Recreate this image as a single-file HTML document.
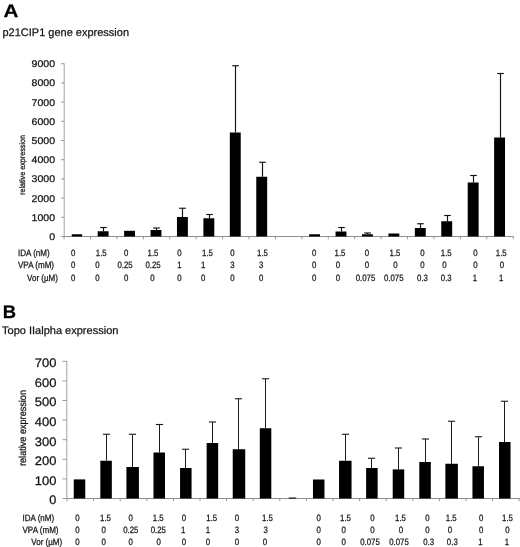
<!DOCTYPE html>
<html lang="en"><head><meta charset="utf-8"><title>Figure</title>
<style>
html,body{margin:0;padding:0;background:#fff;}
svg text{stroke:#1a1a1a;stroke-width:0.25px;}
svg{display:block;text-rendering:geometricPrecision;will-change:transform;filter:grayscale(1);font-family:"Liberation Sans", Arial, Helvetica, sans-serif;}
</style></head><body>
<svg width="520" height="547" viewBox="0 0 520 547">
<rect x="0" y="0" width="520" height="547" fill="#ffffff"/>
<text x="3.5" y="17.4" font-size="18" text-anchor="start" font-weight="bold" fill="#000" textLength="14.9" lengthAdjust="spacingAndGlyphs">A</text>
<text x="2.5" y="35.8" font-size="11" text-anchor="start" font-weight="normal" fill="#111" textLength="126.5" lengthAdjust="spacingAndGlyphs">p21CIP1 gene expression</text>
<line x1="64.2" y1="63.5" x2="64.2" y2="237.0" stroke="#a2a2a2" stroke-width="1.0"/>
<line x1="63.7" y1="236.5" x2="513.5" y2="236.5" stroke="#8e8e8e" stroke-width="1.0"/>
<line x1="61" y1="236.5" x2="64.2" y2="236.5" stroke="#9a9a9a" stroke-width="1.0"/>
<text x="55" y="240.0" font-size="9.7" text-anchor="end" font-weight="normal" fill="#111" textLength="5.85" lengthAdjust="spacingAndGlyphs">0</text>
<line x1="61" y1="217.3" x2="64.2" y2="217.3" stroke="#9a9a9a" stroke-width="1.0"/>
<text x="55" y="220.8" font-size="9.7" text-anchor="end" font-weight="normal" fill="#111" textLength="23.4" lengthAdjust="spacingAndGlyphs">1000</text>
<line x1="61" y1="198.1" x2="64.2" y2="198.1" stroke="#9a9a9a" stroke-width="1.0"/>
<text x="55" y="201.6" font-size="9.7" text-anchor="end" font-weight="normal" fill="#111" textLength="23.4" lengthAdjust="spacingAndGlyphs">2000</text>
<line x1="61" y1="178.9" x2="64.2" y2="178.9" stroke="#9a9a9a" stroke-width="1.0"/>
<text x="55" y="182.4" font-size="9.7" text-anchor="end" font-weight="normal" fill="#111" textLength="23.4" lengthAdjust="spacingAndGlyphs">3000</text>
<line x1="61" y1="159.7" x2="64.2" y2="159.7" stroke="#9a9a9a" stroke-width="1.0"/>
<text x="55" y="163.2" font-size="9.7" text-anchor="end" font-weight="normal" fill="#111" textLength="23.4" lengthAdjust="spacingAndGlyphs">4000</text>
<line x1="61" y1="140.5" x2="64.2" y2="140.5" stroke="#9a9a9a" stroke-width="1.0"/>
<text x="55" y="144.0" font-size="9.7" text-anchor="end" font-weight="normal" fill="#111" textLength="23.4" lengthAdjust="spacingAndGlyphs">5000</text>
<line x1="61" y1="121.30000000000001" x2="64.2" y2="121.30000000000001" stroke="#9a9a9a" stroke-width="1.0"/>
<text x="55" y="124.80000000000001" font-size="9.7" text-anchor="end" font-weight="normal" fill="#111" textLength="23.4" lengthAdjust="spacingAndGlyphs">6000</text>
<line x1="61" y1="102.1" x2="64.2" y2="102.1" stroke="#9a9a9a" stroke-width="1.0"/>
<text x="55" y="105.6" font-size="9.7" text-anchor="end" font-weight="normal" fill="#111" textLength="23.4" lengthAdjust="spacingAndGlyphs">7000</text>
<line x1="61" y1="82.9" x2="64.2" y2="82.9" stroke="#9a9a9a" stroke-width="1.0"/>
<text x="55" y="86.4" font-size="9.7" text-anchor="end" font-weight="normal" fill="#111" textLength="23.4" lengthAdjust="spacingAndGlyphs">8000</text>
<line x1="61" y1="63.70000000000002" x2="64.2" y2="63.70000000000002" stroke="#9a9a9a" stroke-width="1.0"/>
<text x="55" y="67.20000000000002" font-size="9.7" text-anchor="end" font-weight="normal" fill="#111" textLength="23.4" lengthAdjust="spacingAndGlyphs">9000</text>
<line x1="64.08" y1="236.5" x2="64.08" y2="239.3" stroke="#9a9a9a" stroke-width="1.0"/>
<line x1="90.5" y1="236.5" x2="90.5" y2="239.3" stroke="#9a9a9a" stroke-width="1.0"/>
<line x1="116.92" y1="236.5" x2="116.92" y2="239.3" stroke="#9a9a9a" stroke-width="1.0"/>
<line x1="143.34" y1="236.5" x2="143.34" y2="239.3" stroke="#9a9a9a" stroke-width="1.0"/>
<line x1="169.76" y1="236.5" x2="169.76" y2="239.3" stroke="#9a9a9a" stroke-width="1.0"/>
<line x1="196.18" y1="236.5" x2="196.18" y2="239.3" stroke="#9a9a9a" stroke-width="1.0"/>
<line x1="222.60000000000002" y1="236.5" x2="222.60000000000002" y2="239.3" stroke="#9a9a9a" stroke-width="1.0"/>
<line x1="249.01999999999998" y1="236.5" x2="249.01999999999998" y2="239.3" stroke="#9a9a9a" stroke-width="1.0"/>
<line x1="275.44" y1="236.5" x2="275.44" y2="239.3" stroke="#9a9a9a" stroke-width="1.0"/>
<line x1="301.86" y1="236.5" x2="301.86" y2="239.3" stroke="#9a9a9a" stroke-width="1.0"/>
<line x1="328.28000000000003" y1="236.5" x2="328.28000000000003" y2="239.3" stroke="#9a9a9a" stroke-width="1.0"/>
<line x1="354.7" y1="236.5" x2="354.7" y2="239.3" stroke="#9a9a9a" stroke-width="1.0"/>
<line x1="381.12" y1="236.5" x2="381.12" y2="239.3" stroke="#9a9a9a" stroke-width="1.0"/>
<line x1="407.54" y1="236.5" x2="407.54" y2="239.3" stroke="#9a9a9a" stroke-width="1.0"/>
<line x1="433.96" y1="236.5" x2="433.96" y2="239.3" stroke="#9a9a9a" stroke-width="1.0"/>
<line x1="460.38" y1="236.5" x2="460.38" y2="239.3" stroke="#9a9a9a" stroke-width="1.0"/>
<line x1="486.8" y1="236.5" x2="486.8" y2="239.3" stroke="#9a9a9a" stroke-width="1.0"/>
<line x1="513.22" y1="236.5" x2="513.22" y2="239.3" stroke="#9a9a9a" stroke-width="1.0"/>
<text transform="translate(25.2,165) rotate(-90)" font-size="8" text-anchor="middle" fill="#111" textLength="60" lengthAdjust="spacingAndGlyphs">relative expression</text>
<rect x="71.75" y="234.25" width="10.40" height="2.25" fill="#000"/>
<rect x="97.68" y="231.25" width="10.90" height="5.25" fill="#000"/>
<line x1="103.5" y1="227.5" x2="103.5" y2="231.25" stroke="#111" stroke-width="1.15"/>
<line x1="100.2" y1="227.5" x2="106.8" y2="227.5" stroke="#111" stroke-width="1.15"/>
<rect x="124.11" y="230.80" width="10.90" height="5.70" fill="#000"/>
<rect x="150.54" y="230.00" width="10.90" height="6.50" fill="#000"/>
<line x1="156.5" y1="228" x2="156.5" y2="230" stroke="#111" stroke-width="1.15"/>
<line x1="153.2" y1="228" x2="159.8" y2="228" stroke="#111" stroke-width="1.15"/>
<rect x="176.97" y="217.00" width="10.90" height="19.50" fill="#000"/>
<line x1="182.5" y1="208.25" x2="182.5" y2="217" stroke="#111" stroke-width="1.15"/>
<line x1="179.2" y1="208.25" x2="185.8" y2="208.25" stroke="#111" stroke-width="1.15"/>
<rect x="203.40" y="218.25" width="10.90" height="18.25" fill="#000"/>
<line x1="209.5" y1="214.5" x2="209.5" y2="218.25" stroke="#111" stroke-width="1.15"/>
<line x1="206.2" y1="214.5" x2="212.8" y2="214.5" stroke="#111" stroke-width="1.15"/>
<rect x="229.83" y="132.50" width="10.90" height="104.00" fill="#000"/>
<line x1="235.5" y1="65.75" x2="235.5" y2="132.5" stroke="#111" stroke-width="1.15"/>
<line x1="232.2" y1="65.75" x2="238.8" y2="65.75" stroke="#111" stroke-width="1.15"/>
<rect x="256.26" y="176.75" width="10.90" height="59.75" fill="#000"/>
<line x1="262.5" y1="162.25" x2="262.5" y2="176.75" stroke="#111" stroke-width="1.15"/>
<line x1="259.2" y1="162.25" x2="265.8" y2="162.25" stroke="#111" stroke-width="1.15"/>
<rect x="309.12" y="234.25" width="10.90" height="2.25" fill="#000"/>
<rect x="335.55" y="231.50" width="10.90" height="5.00" fill="#000"/>
<line x1="341.5" y1="227.5" x2="341.5" y2="231.5" stroke="#111" stroke-width="1.15"/>
<line x1="338.2" y1="227.5" x2="344.8" y2="227.5" stroke="#111" stroke-width="1.15"/>
<rect x="361.98" y="234.25" width="10.90" height="2.25" fill="#000"/>
<line x1="367.5" y1="233" x2="367.5" y2="234.25" stroke="#111" stroke-width="1.15"/>
<line x1="364.2" y1="233" x2="370.8" y2="233" stroke="#111" stroke-width="1.15"/>
<rect x="388.41" y="233.50" width="10.90" height="3.00" fill="#000"/>
<rect x="414.84" y="228.00" width="10.90" height="8.50" fill="#000"/>
<line x1="420.5" y1="223.75" x2="420.5" y2="228" stroke="#111" stroke-width="1.15"/>
<line x1="417.2" y1="223.75" x2="423.8" y2="223.75" stroke="#111" stroke-width="1.15"/>
<rect x="441.27" y="221.25" width="10.90" height="15.25" fill="#000"/>
<line x1="447.5" y1="215.5" x2="447.5" y2="221.25" stroke="#111" stroke-width="1.15"/>
<line x1="444.2" y1="215.5" x2="450.8" y2="215.5" stroke="#111" stroke-width="1.15"/>
<rect x="467.70" y="182.50" width="10.90" height="54.00" fill="#000"/>
<line x1="473.5" y1="175.5" x2="473.5" y2="182.5" stroke="#111" stroke-width="1.15"/>
<line x1="470.2" y1="175.5" x2="476.8" y2="175.5" stroke="#111" stroke-width="1.15"/>
<rect x="494.13" y="137.50" width="10.90" height="99.00" fill="#000"/>
<line x1="500.5" y1="73.5" x2="500.5" y2="137.5" stroke="#111" stroke-width="1.15"/>
<line x1="497.2" y1="73.5" x2="503.8" y2="73.5" stroke="#111" stroke-width="1.15"/>
<text x="2.8" y="317.7" font-size="18.2" text-anchor="start" font-weight="bold" fill="#000" textLength="13.3" lengthAdjust="spacingAndGlyphs">B</text>
<text x="2" y="334.3" font-size="10.9" text-anchor="start" font-weight="normal" fill="#111" textLength="116.4" lengthAdjust="spacingAndGlyphs">Topo IIalpha expression</text>
<line x1="66.8" y1="361.0" x2="66.8" y2="499.0" stroke="#a2a2a2" stroke-width="1.0"/>
<line x1="66.3" y1="498.5" x2="520" y2="498.5" stroke="#8e8e8e" stroke-width="1.0"/>
<line x1="62.5" y1="498.5" x2="66.8" y2="498.5" stroke="#9a9a9a" stroke-width="1.0"/>
<text x="56.4" y="504.3" font-size="12.4" text-anchor="end" font-weight="normal" fill="#111" textLength="7.1" lengthAdjust="spacingAndGlyphs">0</text>
<line x1="62.5" y1="478.9" x2="66.8" y2="478.9" stroke="#9a9a9a" stroke-width="1.0"/>
<text x="56.4" y="484.7" font-size="12.4" text-anchor="end" font-weight="normal" fill="#111" textLength="21.6" lengthAdjust="spacingAndGlyphs">100</text>
<line x1="62.5" y1="459.3" x2="66.8" y2="459.3" stroke="#9a9a9a" stroke-width="1.0"/>
<text x="56.4" y="465.1" font-size="12.4" text-anchor="end" font-weight="normal" fill="#111" textLength="21.6" lengthAdjust="spacingAndGlyphs">200</text>
<line x1="62.5" y1="439.7" x2="66.8" y2="439.7" stroke="#9a9a9a" stroke-width="1.0"/>
<text x="56.4" y="445.5" font-size="12.4" text-anchor="end" font-weight="normal" fill="#111" textLength="21.6" lengthAdjust="spacingAndGlyphs">300</text>
<line x1="62.5" y1="420.1" x2="66.8" y2="420.1" stroke="#9a9a9a" stroke-width="1.0"/>
<text x="56.4" y="425.90000000000003" font-size="12.4" text-anchor="end" font-weight="normal" fill="#111" textLength="21.6" lengthAdjust="spacingAndGlyphs">400</text>
<line x1="62.5" y1="400.5" x2="66.8" y2="400.5" stroke="#9a9a9a" stroke-width="1.0"/>
<text x="56.4" y="406.3" font-size="12.4" text-anchor="end" font-weight="normal" fill="#111" textLength="21.6" lengthAdjust="spacingAndGlyphs">500</text>
<line x1="62.5" y1="380.9" x2="66.8" y2="380.9" stroke="#9a9a9a" stroke-width="1.0"/>
<text x="56.4" y="386.7" font-size="12.4" text-anchor="end" font-weight="normal" fill="#111" textLength="21.6" lengthAdjust="spacingAndGlyphs">600</text>
<line x1="62.5" y1="361.29999999999995" x2="66.8" y2="361.29999999999995" stroke="#9a9a9a" stroke-width="1.0"/>
<text x="56.4" y="367.09999999999997" font-size="12.4" text-anchor="end" font-weight="normal" fill="#111" textLength="21.6" lengthAdjust="spacingAndGlyphs">700</text>
<line x1="67.0" y1="498.5" x2="67.0" y2="501.3" stroke="#9a9a9a" stroke-width="1.0"/>
<line x1="93.6" y1="498.5" x2="93.6" y2="501.3" stroke="#9a9a9a" stroke-width="1.0"/>
<line x1="120.2" y1="498.5" x2="120.2" y2="501.3" stroke="#9a9a9a" stroke-width="1.0"/>
<line x1="146.8" y1="498.5" x2="146.8" y2="501.3" stroke="#9a9a9a" stroke-width="1.0"/>
<line x1="173.4" y1="498.5" x2="173.4" y2="501.3" stroke="#9a9a9a" stroke-width="1.0"/>
<line x1="200.0" y1="498.5" x2="200.0" y2="501.3" stroke="#9a9a9a" stroke-width="1.0"/>
<line x1="226.60000000000002" y1="498.5" x2="226.60000000000002" y2="501.3" stroke="#9a9a9a" stroke-width="1.0"/>
<line x1="253.20000000000002" y1="498.5" x2="253.20000000000002" y2="501.3" stroke="#9a9a9a" stroke-width="1.0"/>
<line x1="279.8" y1="498.5" x2="279.8" y2="501.3" stroke="#9a9a9a" stroke-width="1.0"/>
<line x1="306.4" y1="498.5" x2="306.4" y2="501.3" stroke="#9a9a9a" stroke-width="1.0"/>
<line x1="333.0" y1="498.5" x2="333.0" y2="501.3" stroke="#9a9a9a" stroke-width="1.0"/>
<line x1="359.6" y1="498.5" x2="359.6" y2="501.3" stroke="#9a9a9a" stroke-width="1.0"/>
<line x1="386.20000000000005" y1="498.5" x2="386.20000000000005" y2="501.3" stroke="#9a9a9a" stroke-width="1.0"/>
<line x1="412.8" y1="498.5" x2="412.8" y2="501.3" stroke="#9a9a9a" stroke-width="1.0"/>
<line x1="439.40000000000003" y1="498.5" x2="439.40000000000003" y2="501.3" stroke="#9a9a9a" stroke-width="1.0"/>
<line x1="466.0" y1="498.5" x2="466.0" y2="501.3" stroke="#9a9a9a" stroke-width="1.0"/>
<line x1="492.6" y1="498.5" x2="492.6" y2="501.3" stroke="#9a9a9a" stroke-width="1.0"/>
<line x1="519.2" y1="498.5" x2="519.2" y2="501.3" stroke="#9a9a9a" stroke-width="1.0"/>
<text transform="translate(25.6,428) rotate(-90)" font-size="10" text-anchor="middle" fill="#111" textLength="76" lengthAdjust="spacingAndGlyphs">relative expression</text>
<rect x="73.75" y="479.40" width="11.50" height="19.10" fill="#000"/>
<rect x="100.33" y="460.75" width="11.50" height="37.75" fill="#000"/>
<line x1="106.5" y1="434.25" x2="106.5" y2="460.75" stroke="#1c1c1c" stroke-width="1.0"/>
<line x1="102.9" y1="434.25" x2="110.1" y2="434.25" stroke="#1c1c1c" stroke-width="1.1"/>
<rect x="126.41" y="467.00" width="12.50" height="31.50" fill="#000"/>
<line x1="132.5" y1="434.25" x2="132.5" y2="467" stroke="#1c1c1c" stroke-width="1.0"/>
<line x1="128.9" y1="434.25" x2="136.1" y2="434.25" stroke="#1c1c1c" stroke-width="1.1"/>
<rect x="153.49" y="452.50" width="11.50" height="46.00" fill="#000"/>
<line x1="159.5" y1="424.5" x2="159.5" y2="452.5" stroke="#1c1c1c" stroke-width="1.0"/>
<line x1="155.9" y1="424.5" x2="163.1" y2="424.5" stroke="#1c1c1c" stroke-width="1.1"/>
<rect x="180.07" y="468.00" width="11.50" height="30.50" fill="#000"/>
<line x1="185.5" y1="449.25" x2="185.5" y2="468" stroke="#1c1c1c" stroke-width="1.0"/>
<line x1="181.9" y1="449.25" x2="189.1" y2="449.25" stroke="#1c1c1c" stroke-width="1.1"/>
<rect x="206.65" y="443.00" width="11.50" height="55.50" fill="#000"/>
<line x1="212.5" y1="422" x2="212.5" y2="443" stroke="#1c1c1c" stroke-width="1.0"/>
<line x1="208.9" y1="422" x2="216.1" y2="422" stroke="#1c1c1c" stroke-width="1.1"/>
<rect x="232.73" y="449.25" width="12.50" height="49.25" fill="#000"/>
<line x1="238.5" y1="398.75" x2="238.5" y2="449.25" stroke="#1c1c1c" stroke-width="1.0"/>
<line x1="234.9" y1="398.75" x2="242.1" y2="398.75" stroke="#1c1c1c" stroke-width="1.1"/>
<rect x="259.81" y="428.25" width="11.50" height="70.25" fill="#000"/>
<line x1="265.5" y1="378.75" x2="265.5" y2="428.25" stroke="#1c1c1c" stroke-width="1.0"/>
<line x1="261.9" y1="378.75" x2="269.1" y2="378.75" stroke="#1c1c1c" stroke-width="1.1"/>
<rect x="312.97" y="479.50" width="11.50" height="19.00" fill="#000"/>
<rect x="339.05" y="460.75" width="12.50" height="37.75" fill="#000"/>
<line x1="345.5" y1="434.25" x2="345.5" y2="460.75" stroke="#1c1c1c" stroke-width="1.0"/>
<line x1="341.9" y1="434.25" x2="349.1" y2="434.25" stroke="#1c1c1c" stroke-width="1.1"/>
<rect x="366.13" y="468.00" width="11.50" height="30.50" fill="#000"/>
<line x1="371.5" y1="458.25" x2="371.5" y2="468" stroke="#1c1c1c" stroke-width="1.0"/>
<line x1="367.9" y1="458.25" x2="375.1" y2="458.25" stroke="#1c1c1c" stroke-width="1.1"/>
<rect x="392.71" y="469.40" width="11.50" height="29.10" fill="#000"/>
<line x1="398.5" y1="448" x2="398.5" y2="469.4" stroke="#1c1c1c" stroke-width="1.0"/>
<line x1="394.9" y1="448" x2="402.1" y2="448" stroke="#1c1c1c" stroke-width="1.1"/>
<rect x="419.29" y="462.00" width="11.50" height="36.50" fill="#000"/>
<line x1="425.5" y1="439" x2="425.5" y2="462" stroke="#1c1c1c" stroke-width="1.0"/>
<line x1="421.9" y1="439" x2="429.1" y2="439" stroke="#1c1c1c" stroke-width="1.1"/>
<rect x="445.37" y="463.75" width="12.50" height="34.75" fill="#000"/>
<line x1="451.5" y1="421.25" x2="451.5" y2="463.75" stroke="#1c1c1c" stroke-width="1.0"/>
<line x1="447.9" y1="421.25" x2="455.1" y2="421.25" stroke="#1c1c1c" stroke-width="1.1"/>
<rect x="472.45" y="466.25" width="11.50" height="32.25" fill="#000"/>
<line x1="478.5" y1="436.75" x2="478.5" y2="466.25" stroke="#1c1c1c" stroke-width="1.0"/>
<line x1="474.9" y1="436.75" x2="482.1" y2="436.75" stroke="#1c1c1c" stroke-width="1.1"/>
<rect x="499.03" y="442.00" width="11.50" height="56.50" fill="#000"/>
<line x1="504.5" y1="401.25" x2="504.5" y2="442" stroke="#1c1c1c" stroke-width="1.0"/>
<line x1="500.9" y1="401.25" x2="508.1" y2="401.25" stroke="#1c1c1c" stroke-width="1.1"/>
<line x1="288.75" y1="498.1" x2="296.25" y2="498.1" stroke="#111" stroke-width="1.15"/>
<text transform="translate(18,256.2) scale(0.875,1)" font-size="9.2" text-anchor="start" fill="#111">IDA (nM)</text>
<text transform="translate(18,268.3) scale(0.875,1)" font-size="9.2" text-anchor="start" fill="#111">VPA (mM)</text>
<text transform="translate(27,280.6) scale(0.875,1)" font-size="9.2" text-anchor="start" fill="#111">Vor (µM)</text>
<text transform="translate(73.25,256.2) scale(0.85,1)" font-size="9.2" text-anchor="middle" fill="#111">0</text>
<text transform="translate(73.25,268.3) scale(0.85,1)" font-size="9.2" text-anchor="middle" fill="#111">0</text>
<text transform="translate(73.25,280.6) scale(0.85,1)" font-size="9.2" text-anchor="middle" fill="#111">0</text>
<text transform="translate(101.25,256.2) scale(0.85,1)" font-size="9.2" text-anchor="middle" fill="#111">1.5</text>
<text transform="translate(97.5,268.3) scale(0.85,1)" font-size="9.2" text-anchor="middle" fill="#111">0</text>
<text transform="translate(97.5,280.6) scale(0.85,1)" font-size="9.2" text-anchor="middle" fill="#111">0</text>
<text transform="translate(126.25,256.2) scale(0.85,1)" font-size="9.2" text-anchor="middle" fill="#111">0</text>
<text transform="translate(125,268.3) scale(0.85,1)" font-size="9.2" text-anchor="middle" fill="#111">0.25</text>
<text transform="translate(126.25,280.6) scale(0.85,1)" font-size="9.2" text-anchor="middle" fill="#111">0</text>
<text transform="translate(153,256.2) scale(0.85,1)" font-size="9.2" text-anchor="middle" fill="#111">1.5</text>
<text transform="translate(153,268.3) scale(0.85,1)" font-size="9.2" text-anchor="middle" fill="#111">0.25</text>
<text transform="translate(152.5,280.6) scale(0.85,1)" font-size="9.2" text-anchor="middle" fill="#111">0</text>
<text transform="translate(179.4,256.2) scale(0.85,1)" font-size="9.2" text-anchor="middle" fill="#111">0</text>
<text transform="translate(179.4,268.3) scale(0.85,1)" font-size="9.2" text-anchor="middle" fill="#111">1</text>
<text transform="translate(179.4,280.6) scale(0.85,1)" font-size="9.2" text-anchor="middle" fill="#111">0</text>
<text transform="translate(207.5,256.2) scale(0.85,1)" font-size="9.2" text-anchor="middle" fill="#111">1.5</text>
<text transform="translate(203.25,268.3) scale(0.85,1)" font-size="9.2" text-anchor="middle" fill="#111">1</text>
<text transform="translate(203.25,280.6) scale(0.85,1)" font-size="9.2" text-anchor="middle" fill="#111">0</text>
<text transform="translate(232.5,256.2) scale(0.85,1)" font-size="9.2" text-anchor="middle" fill="#111">0</text>
<text transform="translate(232.5,268.3) scale(0.85,1)" font-size="9.2" text-anchor="middle" fill="#111">3</text>
<text transform="translate(232.5,280.6) scale(0.85,1)" font-size="9.2" text-anchor="middle" fill="#111">0</text>
<text transform="translate(262.5,256.2) scale(0.85,1)" font-size="9.2" text-anchor="middle" fill="#111">1.5</text>
<text transform="translate(261.25,268.3) scale(0.85,1)" font-size="9.2" text-anchor="middle" fill="#111">3</text>
<text transform="translate(261.25,280.6) scale(0.85,1)" font-size="9.2" text-anchor="middle" fill="#111">0</text>
<text transform="translate(314.25,256.2) scale(0.85,1)" font-size="9.2" text-anchor="middle" fill="#111">0</text>
<text transform="translate(314.25,268.3) scale(0.85,1)" font-size="9.2" text-anchor="middle" fill="#111">0</text>
<text transform="translate(314.25,280.6) scale(0.85,1)" font-size="9.2" text-anchor="middle" fill="#111">0</text>
<text transform="translate(340,256.2) scale(0.85,1)" font-size="9.2" text-anchor="middle" fill="#111">1.5</text>
<text transform="translate(338,268.3) scale(0.85,1)" font-size="9.2" text-anchor="middle" fill="#111">0</text>
<text transform="translate(338,280.6) scale(0.85,1)" font-size="9.2" text-anchor="middle" fill="#111">0</text>
<text transform="translate(367,256.2) scale(0.85,1)" font-size="9.2" text-anchor="middle" fill="#111">0</text>
<text transform="translate(367,268.3) scale(0.85,1)" font-size="9.2" text-anchor="middle" fill="#111">0</text>
<text transform="translate(365.5,280.6) scale(0.85,1)" font-size="9.2" text-anchor="middle" fill="#111">0.075</text>
<text transform="translate(395,256.2) scale(0.85,1)" font-size="9.2" text-anchor="middle" fill="#111">1.5</text>
<text transform="translate(395.5,268.3) scale(0.85,1)" font-size="9.2" text-anchor="middle" fill="#111">0</text>
<text transform="translate(393.75,280.6) scale(0.85,1)" font-size="9.2" text-anchor="middle" fill="#111">0.075</text>
<text transform="translate(422.5,256.2) scale(0.85,1)" font-size="9.2" text-anchor="middle" fill="#111">0</text>
<text transform="translate(422.5,268.3) scale(0.85,1)" font-size="9.2" text-anchor="middle" fill="#111">0</text>
<text transform="translate(422.5,280.6) scale(0.85,1)" font-size="9.2" text-anchor="middle" fill="#111">0.3</text>
<text transform="translate(446.25,256.2) scale(0.85,1)" font-size="9.2" text-anchor="middle" fill="#111">1.5</text>
<text transform="translate(444.5,268.3) scale(0.85,1)" font-size="9.2" text-anchor="middle" fill="#111">0</text>
<text transform="translate(446.25,280.6) scale(0.85,1)" font-size="9.2" text-anchor="middle" fill="#111">0.3</text>
<text transform="translate(475.5,256.2) scale(0.85,1)" font-size="9.2" text-anchor="middle" fill="#111">0</text>
<text transform="translate(475.5,268.3) scale(0.85,1)" font-size="9.2" text-anchor="middle" fill="#111">0</text>
<text transform="translate(475,280.6) scale(0.85,1)" font-size="9.2" text-anchor="middle" fill="#111">1</text>
<text transform="translate(501.25,256.2) scale(0.85,1)" font-size="9.2" text-anchor="middle" fill="#111">1.5</text>
<text transform="translate(502,268.3) scale(0.85,1)" font-size="9.2" text-anchor="middle" fill="#111">0</text>
<text transform="translate(501.25,280.6) scale(0.85,1)" font-size="9.2" text-anchor="middle" fill="#111">1</text>
<text transform="translate(22.5,520.8) scale(0.875,1)" font-size="9.2" text-anchor="start" fill="#111">IDA (nM)</text>
<text transform="translate(22.5,532.9) scale(0.875,1)" font-size="9.2" text-anchor="start" fill="#111">VPA (mM)</text>
<text transform="translate(31.25,544.8) scale(0.875,1)" font-size="9.2" text-anchor="start" fill="#111">Vor (µM)</text>
<text transform="translate(77.5,520.8) scale(0.85,1)" font-size="9.2" text-anchor="middle" fill="#111">0</text>
<text transform="translate(77.5,532.9) scale(0.85,1)" font-size="9.2" text-anchor="middle" fill="#111">0</text>
<text transform="translate(77.5,544.8) scale(0.85,1)" font-size="9.2" text-anchor="middle" fill="#111">0</text>
<text transform="translate(105.5,520.8) scale(0.85,1)" font-size="9.2" text-anchor="middle" fill="#111">1.5</text>
<text transform="translate(103.75,532.9) scale(0.85,1)" font-size="9.2" text-anchor="middle" fill="#111">0</text>
<text transform="translate(103.75,544.8) scale(0.85,1)" font-size="9.2" text-anchor="middle" fill="#111">0</text>
<text transform="translate(130.75,520.8) scale(0.85,1)" font-size="9.2" text-anchor="middle" fill="#111">0</text>
<text transform="translate(130.75,532.9) scale(0.85,1)" font-size="9.2" text-anchor="middle" fill="#111">0.25</text>
<text transform="translate(130.75,544.8) scale(0.85,1)" font-size="9.2" text-anchor="middle" fill="#111">0</text>
<text transform="translate(158.25,520.8) scale(0.85,1)" font-size="9.2" text-anchor="middle" fill="#111">1.5</text>
<text transform="translate(158.25,532.9) scale(0.85,1)" font-size="9.2" text-anchor="middle" fill="#111">0.25</text>
<text transform="translate(158.75,544.8) scale(0.85,1)" font-size="9.2" text-anchor="middle" fill="#111">0</text>
<text transform="translate(184,520.8) scale(0.85,1)" font-size="9.2" text-anchor="middle" fill="#111">0</text>
<text transform="translate(183.25,532.9) scale(0.85,1)" font-size="9.2" text-anchor="middle" fill="#111">1</text>
<text transform="translate(184,544.8) scale(0.85,1)" font-size="9.2" text-anchor="middle" fill="#111">0</text>
<text transform="translate(211.75,520.8) scale(0.85,1)" font-size="9.2" text-anchor="middle" fill="#111">1.5</text>
<text transform="translate(208,532.9) scale(0.85,1)" font-size="9.2" text-anchor="middle" fill="#111">1</text>
<text transform="translate(208,544.8) scale(0.85,1)" font-size="9.2" text-anchor="middle" fill="#111">0</text>
<text transform="translate(237,520.8) scale(0.85,1)" font-size="9.2" text-anchor="middle" fill="#111">0</text>
<text transform="translate(237,532.9) scale(0.85,1)" font-size="9.2" text-anchor="middle" fill="#111">3</text>
<text transform="translate(237,544.8) scale(0.85,1)" font-size="9.2" text-anchor="middle" fill="#111">0</text>
<text transform="translate(267.5,520.8) scale(0.85,1)" font-size="9.2" text-anchor="middle" fill="#111">1.5</text>
<text transform="translate(265.75,532.9) scale(0.85,1)" font-size="9.2" text-anchor="middle" fill="#111">3</text>
<text transform="translate(265,544.8) scale(0.85,1)" font-size="9.2" text-anchor="middle" fill="#111">0</text>
<text transform="translate(318.75,520.8) scale(0.85,1)" font-size="9.2" text-anchor="middle" fill="#111">0</text>
<text transform="translate(318.75,532.9) scale(0.85,1)" font-size="9.2" text-anchor="middle" fill="#111">0</text>
<text transform="translate(318.75,544.8) scale(0.85,1)" font-size="9.2" text-anchor="middle" fill="#111">0</text>
<text transform="translate(345.5,520.8) scale(0.85,1)" font-size="9.2" text-anchor="middle" fill="#111">1.5</text>
<text transform="translate(343.75,532.9) scale(0.85,1)" font-size="9.2" text-anchor="middle" fill="#111">0</text>
<text transform="translate(343.75,544.8) scale(0.85,1)" font-size="9.2" text-anchor="middle" fill="#111">0</text>
<text transform="translate(372.5,520.8) scale(0.85,1)" font-size="9.2" text-anchor="middle" fill="#111">0</text>
<text transform="translate(372.5,532.9) scale(0.85,1)" font-size="9.2" text-anchor="middle" fill="#111">0</text>
<text transform="translate(370,544.8) scale(0.85,1)" font-size="9.2" text-anchor="middle" fill="#111">0.075</text>
<text transform="translate(400.5,520.8) scale(0.85,1)" font-size="9.2" text-anchor="middle" fill="#111">1.5</text>
<text transform="translate(401,532.9) scale(0.85,1)" font-size="9.2" text-anchor="middle" fill="#111">0</text>
<text transform="translate(399,544.8) scale(0.85,1)" font-size="9.2" text-anchor="middle" fill="#111">0.075</text>
<text transform="translate(427.5,520.8) scale(0.85,1)" font-size="9.2" text-anchor="middle" fill="#111">0</text>
<text transform="translate(427.5,532.9) scale(0.85,1)" font-size="9.2" text-anchor="middle" fill="#111">0</text>
<text transform="translate(428.6,544.8) scale(0.85,1)" font-size="9.2" text-anchor="middle" fill="#111">0.3</text>
<text transform="translate(451.25,520.8) scale(0.85,1)" font-size="9.2" text-anchor="middle" fill="#111">1.5</text>
<text transform="translate(450,532.9) scale(0.85,1)" font-size="9.2" text-anchor="middle" fill="#111">0</text>
<text transform="translate(452.3,544.8) scale(0.85,1)" font-size="9.2" text-anchor="middle" fill="#111">0.3</text>
<text transform="translate(481.25,520.8) scale(0.85,1)" font-size="9.2" text-anchor="middle" fill="#111">0</text>
<text transform="translate(481.25,532.9) scale(0.85,1)" font-size="9.2" text-anchor="middle" fill="#111">0</text>
<text transform="translate(480.5,544.8) scale(0.85,1)" font-size="9.2" text-anchor="middle" fill="#111">1</text>
<text transform="translate(507.5,520.8) scale(0.85,1)" font-size="9.2" text-anchor="middle" fill="#111">1.5</text>
<text transform="translate(507.5,532.9) scale(0.85,1)" font-size="9.2" text-anchor="middle" fill="#111">0</text>
<text transform="translate(507,544.8) scale(0.85,1)" font-size="9.2" text-anchor="middle" fill="#111">1</text>
</svg>
</body></html>
